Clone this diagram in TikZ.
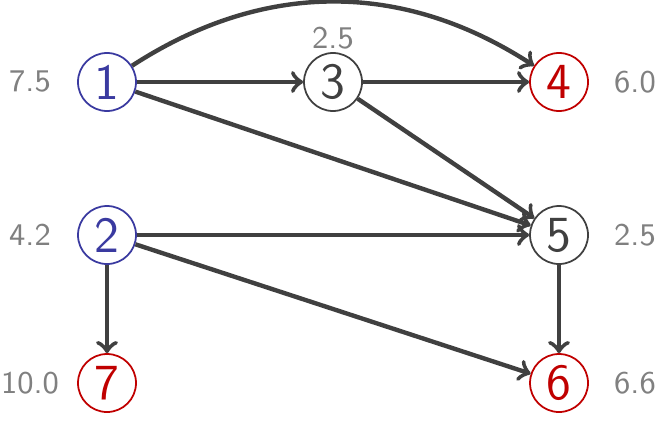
\documentclass[tikz,border=0pt]{standalone}
\usetikzlibrary{positioning}
\definecolor{srcblue}{RGB}{58,58,160}
\definecolor{sinkred}{RGB}{192,0,0}
\definecolor{edgegray}{RGB}{64,64,64}
\definecolor{wgray}{RGB}{128,128,128}

\begin{document}
\begin{tikzpicture}
  [font=\sffamily,
   every node/.style={circle, draw=edgegray, text=edgegray, line width=0.5pt, inner sep=1pt, minimum size=5.8mm, font=\sffamily\Large},
   src/.style={draw=srcblue, text=srcblue},
   sink/.style={draw=sinkred, text=sinkred},
   wt/.style={draw=none, circle=false, rectangle, minimum size=0pt, text=wgray, font=\sffamily\small},
   every edge/.style={draw=edgegray, line width=1.25pt, ->}]
  \useasboundingbox (0,0) rectangle (6.65,4.24);
  \node[src]  (n1) at (1.07,3.42) {1};
  \node       (n3) at (3.33,3.42) {3};
  \node[sink] (n4) at (5.59,3.42) {4};
  \node[src]  (n2) at (1.07,1.89) {2};
  \node       (n5) at (5.59,1.89) {5};
  \node[sink] (n7) at (1.07,0.41) {7};
  \node[sink] (n6) at (5.59,0.41) {6};
  % weights
  \node[wt] (w1) at (0.30,3.42) {7.5};
  \node[wt] (w3) at (3.33,3.86) {2.5};
  \node[wt] (w4) at (6.35,3.42) {6.0};
  \node[wt] (w2) at (0.30,1.89) {4.2};
  \node[wt] (w5) at (6.35,1.89) {2.5};
  \node[wt] (w7) at (0.30,0.41) {10.0};
  \node[wt] (w6) at (6.35,0.41) {6.6};
  % arcs
  \path (n1) edge (n3)
        (n1) edge[bend left=33] (n4)
        (n1) edge (n5)
        (n3) edge (n4)
        (n3) edge (n5)
        (n2) edge (n5)
        (n2) edge (n6)
        (n2) edge (n7)
        (n5) edge (n6);
\end{tikzpicture}
\end{document}
